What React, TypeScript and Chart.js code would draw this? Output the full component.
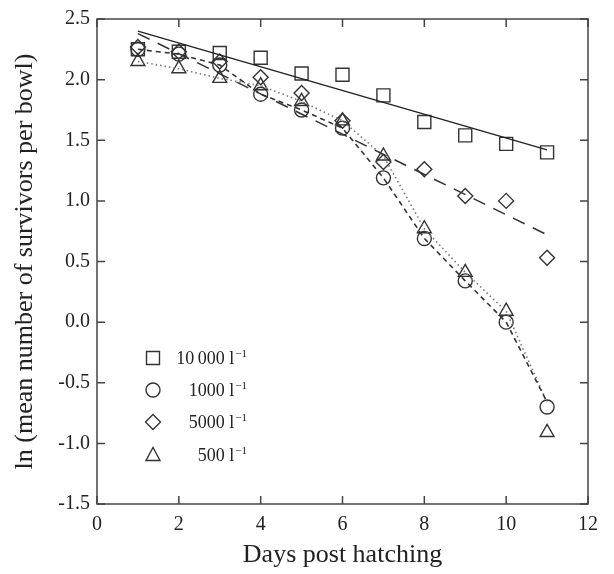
import React, { useEffect, useRef } from "react";
import { Chart, registerables } from "chart.js";

Chart.register(...registerables);

// ---- data ----
const days = [1, 2, 3, 4, 5, 6, 7, 8, 9, 10, 11];
const d10000 = [2.25, 2.23, 2.22, 2.18, 2.05, 2.04, 1.87, 1.65, 1.54, 1.47, 1.40];
const d1000 = [2.25, 2.21, 2.12, 1.88, 1.75, 1.60, 1.19, 0.69, 0.34, 0.0, -0.70];
const d5000 = [2.27, 2.23, 2.15, 2.02, 1.89, 1.66, 1.32, 1.26, 1.04, 1.0, 0.53];
const d500 = [2.15, 2.09, 2.01, 1.95, 1.82, 1.66, 1.37, 0.77, 0.41, 0.09, -0.91];
// fitted / smoothed lines
const fitDays = [1, 11];
const fit10000 = [2.40, 1.42];
const fit5000 = [2.38, 0.72];
const curve1000 = [2.25, 2.21, 2.12, 1.88, 1.75, 1.60, 1.19, 0.69, 0.34, 0.0, -0.66];
const curve500 = [2.15, 2.09, 2.01, 1.95, 1.82, 1.66, 1.37, 0.77, 0.41, 0.09, -0.66];
// axes
const xMin = 0, xMax = 12, xStep = 2;
const yMin = -1.5, yMax = 2.5, yStep = 0.5;
const xTitle = "Days post hatching";
const yTitle = "ln (mean number of survivors per bowl)";
const legendLabels = ["10\u2009000 l", "1000 l", "5000 l", "500 l"];
const legendSup = "\u22121";
const legendStyles = ["rect", "circle", "rectRot", "triangle"];

const INK = "#333";
const FONT = "'Liberation Serif', 'Times New Roman', serif";

const toXY = (xs: number[], ys: number[]) => xs.map((x, i) => ({ x, y: ys[i] }));

function drawMarker(ctx: CanvasRenderingContext2D, style: string, x: number, y: number) {
  ctx.beginPath();
  if (style === "rect") {
    ctx.rect(x - 6.5, y - 6.5, 13, 13);
  } else if (style === "circle") {
    ctx.arc(x, y, 7, 0, Math.PI * 2);
  } else if (style === "rectRot") {
    ctx.moveTo(x, y - 7.5);
    ctx.lineTo(x + 7.5, y);
    ctx.lineTo(x, y + 7.5);
    ctx.lineTo(x - 7.5, y);
    ctx.closePath();
  } else {
    ctx.moveTo(x, y - 7.5);
    ctx.lineTo(x + 7, y + 5.5);
    ctx.lineTo(x - 7, y + 5.5);
    ctx.closePath();
  }
  ctx.stroke();
}

const framePlugin = {
  id: "frameTicks",
  afterDatasetsDraw(chart: any) {
    const { ctx, chartArea: a, scales } = chart;
    ctx.save();
    ctx.strokeStyle = "#444";
    ctx.lineWidth = 1.5;
    ctx.strokeRect(a.left, a.top, a.right - a.left, a.bottom - a.top);
    const tl = 8;
    ctx.beginPath();
    scales.x.ticks.forEach((t: any) => {
      const px = scales.x.getPixelForValue(t.value);
      ctx.moveTo(px, a.bottom);
      ctx.lineTo(px, a.bottom - tl);
      ctx.moveTo(px, a.top);
      ctx.lineTo(px, a.top + tl);
    });
    scales.y.ticks.forEach((t: any) => {
      const py = scales.y.getPixelForValue(t.value);
      ctx.moveTo(a.left, py);
      ctx.lineTo(a.left + tl, py);
      ctx.moveTo(a.right, py);
      ctx.lineTo(a.right - tl, py);
    });
    ctx.stroke();

    // legend
    const rowsY = [146, 114, 82, 49];
    ctx.strokeStyle = INK;
    ctx.fillStyle = "#222";
    ctx.lineWidth = 1.4;
    const textRight = a.left + 150;
    legendLabels.forEach((lab, i) => {
      const y = a.bottom - rowsY[i];
      drawMarker(ctx, legendStyles[i], a.left + 56, y);
      ctx.font = `11px ${FONT}`;
      const sw = ctx.measureText(legendSup).width;
      ctx.textBaseline = "alphabetic";
      ctx.textAlign = "left";
      ctx.fillText(legendSup, textRight - sw, y - 1);
      ctx.font = `18px ${FONT}`;
      ctx.textAlign = "right";
      ctx.fillText(lab, textRight - sw - 1, y + 6);
    });
    ctx.restore();
  },
};

export default function App() {
  const ref = useRef<HTMLCanvasElement | null>(null);
  useEffect(() => {
    if (!ref.current) return;
    const pointDs = (label: string, ys: number[], style: string, r: number) => ({
      label,
      data: toXY(days, ys),
      pointStyle: style,
      pointRadius: r,
      pointBorderColor: INK,
      pointBackgroundColor: "rgba(0,0,0,0)",
      pointBorderWidth: 1.4,
      showLine: false,
    });
    const lineDs = (label: string, xs: number[], ys: number[], dash: number[], color: string, w: number) => ({
      label,
      data: toXY(xs, ys),
      showLine: true,
      borderColor: color,
      borderWidth: w,
      borderDash: dash,
      pointRadius: 0,
      tension: 0,
    });
    const chart = new Chart(ref.current, {
      type: "scatter",
      data: {
        datasets: [
          lineDs("fit 10000", fitDays, fit10000, [], "#222", 1.4),
          lineDs("fit 5000", fitDays, fit5000, [13, 9], "#333", 1.5),
          lineDs("curve 1000", days, curve1000, [5, 4], "#333", 1.6),
          lineDs("curve 500", days, curve500, [1.5, 3], "#777", 1.6),
          pointDs("10000", d10000, "rect", 9.2),
          pointDs("1000", d1000, "circle", 7),
          pointDs("5000", d5000, "rectRot", 7.5),
          pointDs("500", d500, "triangle", 8),
        ] as any,
      },
      options: {
        animation: false,
        responsive: false,
        layout: { padding: { top: 17, right: 26, left: 0, bottom: 0 } },
        plugins: { legend: { display: false }, tooltip: { enabled: false } },
        scales: {
          x: {
            type: "linear",
            min: xMin,
            max: xMax,
            grid: { display: false, drawTicks: false },
            border: { display: false },
            ticks: { stepSize: xStep, color: "#222", font: { family: FONT, size: 20 }, padding: 9 },
            title: { display: true, text: xTitle, color: "#222", font: { family: FONT, size: 26 }, padding: { top: 0, bottom: 3 } },
            afterFit: (s: any) => { s.height = 70; },
          },
          y: {
            type: "linear",
            min: yMin,
            max: yMax,
            grid: { display: false, drawTicks: false },
            border: { display: false },
            ticks: {
              stepSize: yStep,
              color: "#222",
              font: { family: FONT, size: 20 },
              padding: 7,
              callback: (v: any) => Number(v).toFixed(1),
            },
            title: { display: true, text: yTitle, color: "#222", font: { family: FONT, size: 26 }, padding: { top: 10, bottom: 0 } },
            afterFit: (s: any) => { s.width = 97; },
          },
        },
      } as any,
      plugins: [framePlugin],
    });
    return () => chart.destroy();
  }, []);
  return (
    <div style={{ position: "absolute", left: 0, top: 0, width: 614, height: 574, background: "#fff" }}>
      <canvas ref={ref} width={614} height={574} style={{ display: "block" }} />
    </div>
  );
}
